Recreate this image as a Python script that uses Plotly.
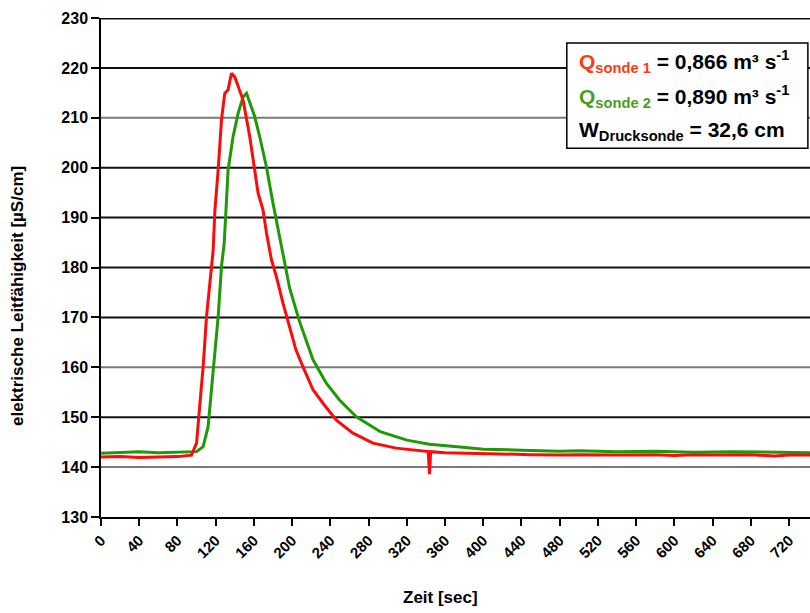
import plotly.graph_objects as go

# --- data ---
red_x = [0, 20, 40, 60, 80, 94.7, 100, 103.4, 106.9, 110.4, 113.9, 117.4, 119.2, 122.6, 126.1, 129.5,
         133, 136.5, 140, 143.5, 148.6, 155.7, 160.9, 164.4, 169.6, 173.2, 178.4, 183.5, 190.5, 197.5,
         204, 211.4, 221.9, 232.3, 246.3, 263.7, 284.6, 308.9, 330, 342.5, 343.8, 345, 360, 396, 420,
         450, 480, 500, 540, 580, 600, 620, 650, 680, 705, 720, 742]
red_y = [142.0, 142.1, 141.9, 142.0, 142.1, 142.4, 144.8, 152.4, 160.1, 170.1, 176.8, 183.5, 191.5, 199.5,
         209.6, 214.9, 215.6, 218.9, 218.2, 216.2, 213.6, 206.2, 199.5, 194.9, 191.5, 186.9, 181.5, 178.2,
         172.8, 168.1, 163.5, 160.1, 155.5, 152.8, 149.4, 146.8, 144.8, 143.8, 143.3, 143.1, 138.6, 143.1,
         142.9, 142.8, 142.6, 142.5, 142.4, 142.5, 142.4, 142.5, 142.3, 142.5, 142.4, 142.5, 142.2, 142.4, 142.4]

green_x = [0, 20, 40, 60, 80, 95, 100, 106.9, 112.1, 115.6, 119.2, 122.6, 126.1, 129, 133, 138.2,
           143.5, 148.7, 152.3, 155.7, 160.9, 166.1, 173.1, 180, 187.1, 197.5, 207.9, 221.9, 235.8,
           249.8, 267.2, 292.3, 320.1, 343.8, 378.6, 400, 440, 480, 500, 540, 580, 620, 660, 700, 742]
green_y = [142.8, 143.0, 143.1, 142.9, 143.0, 143.0, 143.1, 144.1, 148.1, 155.5, 163.5, 170.1, 180.2, 185.0,
           199.5, 206.2, 210.9, 214.2, 214.9, 212.9, 210.2, 206.2, 200.2, 192.9, 186.2, 175.8, 169.1,
           161.5, 156.8, 153.4, 150.1, 147.1, 145.4, 144.6, 144.0, 143.6, 143.4, 143.2, 143.3, 143.1,
           143.2, 143.0, 143.1, 143.0, 142.9]

x_ticks = list(range(0, 721, 40))
y_ticks = list(range(130, 231, 10))
gray_grid = [210, 160, 140]

x_title = "Zeit [sec]"
y_title = "elektrische Leitfähigkeit [µS/cm]"
legend_lines = [
    "<span style='color:#ff3a12'>Q<sub>sonde 1</sub></span> = 0,866 m³ s<sup>-1</sup>",
    "<span style='color:#4a9e1e'>Q<sub>sonde 2</sub></span> = 0,890 m³ s<sup>-1</sup>",
    "W<sub>Drucksonde</sub> = 32,6 cm",
]

fig = go.Figure()
fig.add_trace(go.Scatter(x=green_x, y=green_y, mode="lines",
                         line=dict(color="#1f9a06", width=3), name="Qsonde 2"))
fig.add_trace(go.Scatter(x=red_x, y=red_y, mode="lines",
                         line=dict(color="#ff0a0a", width=3), name="Qsonde 1"))

# grid lines with different shades (as in the reference)
for v in y_ticks[1:]:
    col = "#7a7a7a" if v in gray_grid else "#111111"
    fig.add_shape(type="line", xref="paper", x0=0, x1=1, yref="y", y0=v, y1=v,
                  line=dict(color=col, width=3 if v == 230 else 2), layer="below")

fig.update_layout(
    width=810, height=613,
    margin=dict(l=101, r=0, t=18, b=96),
    paper_bgcolor="white", plot_bgcolor="white",
    showlegend=False,
    font=dict(family="Liberation Sans, Arial", color="black"),
    xaxis=dict(range=[0, 742], tickvals=x_ticks, tickangle=-45, showgrid=False,
               showline=True, linecolor="black", linewidth=1.5,
               ticks="outside", ticklen=7, tickcolor="black", tickwidth=1.5,
               tickfont=dict(size=15, family="Liberation Sans, Arial", color="black", weight="bold"),
               zeroline=False),
    yaxis=dict(range=[130, 230], tickvals=y_ticks, showgrid=False,
               showline=True, linecolor="black", linewidth=1.5,
               ticks="outside", ticklen=8, tickcolor="black", tickwidth=1.5,
               tickfont=dict(size=16, family="Liberation Sans, Arial", color="black", weight="bold"),
               zeroline=False),
)

# axis titles placed as in the reference
fig.add_annotation(xref="paper", yref="paper", x=(440 - 101) / 709, y=(517 - 597) / 499,
                   xanchor="center", yanchor="middle", text=x_title, showarrow=False,
                   font=dict(size=17, weight="bold", color="black"))
fig.add_annotation(xref="paper", yref="paper", x=(17 - 101) / 709, y=(517 - 296) / 499,
                   xanchor="center", yanchor="middle", text=y_title, showarrow=False, textangle=-90,
                   font=dict(size=17, weight="bold", color="black"))

# legend-like text box
fig.add_shape(type="rect", xref="paper", yref="paper", x0=0.657, x1=0.997, y0=0.739, y1=0.950,
              line=dict(color="black", width=1.5), fillcolor="white", layer="above")
for i, t in enumerate(legend_lines):
    fig.add_annotation(xref="paper", yref="paper", x=0.671, y=0.912 - i * 0.069,
                       xanchor="left", yanchor="middle", text=t, showarrow=False,
                       font=dict(size=21, family="Liberation Sans, Arial", color="black", weight="bold"))

fig.write_html("out.html")
